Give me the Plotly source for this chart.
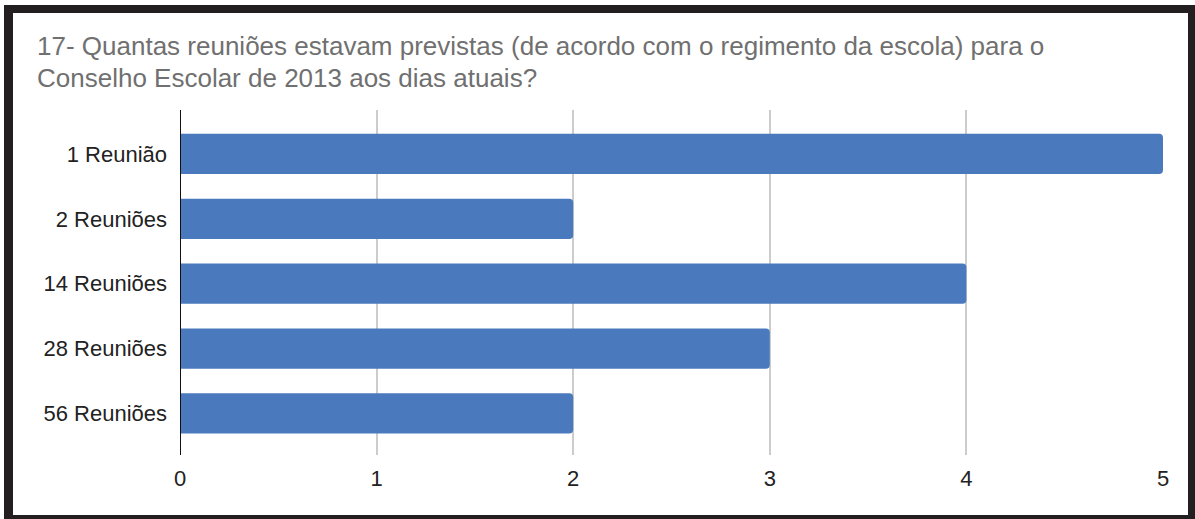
import plotly.graph_objects as go

categories = ["1 Reunião", "2 Reuniões", "14 Reuniões", "28 Reuniões", "56 Reuniões"]
values = [5, 2, 4, 3, 2]
x_ticks = [0, 1, 2, 3, 4, 5]
title_lines = [
    "17- Quantas reuniões estavam previstas (de acordo com o regimento da escola) para o",
    "Conselho Escolar de 2013 aos dias atuais?",
]

W, H = 1195, 519
L, R, T, B = 180, 32, 110, 64
PW, PH = W - L - R, H - T - B


def px(x):
    return (x - L) / PW


def py(y):
    return (H - B - y) / PH


fig = go.Figure(
    go.Bar(
        x=values,
        y=list(range(len(categories))),
        orientation="h",
        width=0.62,
        marker=dict(color="#4a7abd", line=dict(width=0), cornerradius=4),
        hoverinfo="x",
    )
)

shapes = []
# black frame
for (x0, y0, x1, y1) in [(4, 5, 13, 519), (4, 5, 1195, 13), (1188, 5, 1195, 519), (4, 515, 1195, 519)]:
    shapes.append(dict(type="rect", xref="paper", yref="paper", x0=px(x0), x1=px(x1),
                       y0=py(y1), y1=py(y0), fillcolor="#231f20", line=dict(width=0), layer="above"))
# vertical axis line at 0
shapes.append(dict(type="line", xref="x", yref="paper", x0=0, x1=0, y0=0, y1=1,
                   line=dict(color="#111111", width=2), layer="above"))

annotations = []
for i, line in enumerate(title_lines):
    annotations.append(dict(text=line, xref="paper", yref="paper", x=px(36), y=py(62),
                            xanchor="left", yanchor="bottom" if i == 0 else "top",
                            showarrow=False, borderpad=0,
                            font=dict(family="Liberation Sans, Arial", size=26, color="#707070")))

fig.update_layout(
    width=W, height=H,
    margin=dict(l=L, r=R, t=T, b=B, pad=0),
    paper_bgcolor="white", plot_bgcolor="white",
    showlegend=False,
    font=dict(family="Liberation Sans, Arial", size=22, color="#222222"),
    xaxis=dict(range=[0, 5], tickvals=x_ticks, ticktext=[str(v) for v in x_ticks],
               showgrid=True, gridcolor="#cccccc", gridwidth=1.5, zeroline=False,
               showline=False, ticks="", ticklabelstandoff=8, fixedrange=True),
    yaxis=dict(range=[4.64, -0.678], tickvals=list(range(len(categories))), ticktext=categories,
               showgrid=False, zeroline=False, showline=False, ticks="",
               ticklabelstandoff=12, fixedrange=True),
    shapes=shapes,
    annotations=annotations,
)

fig.write_html("out.html", config={"displayModeBar": False},
               post_script="document.body.style.margin='0';document.body.style.overflow='hidden';")
